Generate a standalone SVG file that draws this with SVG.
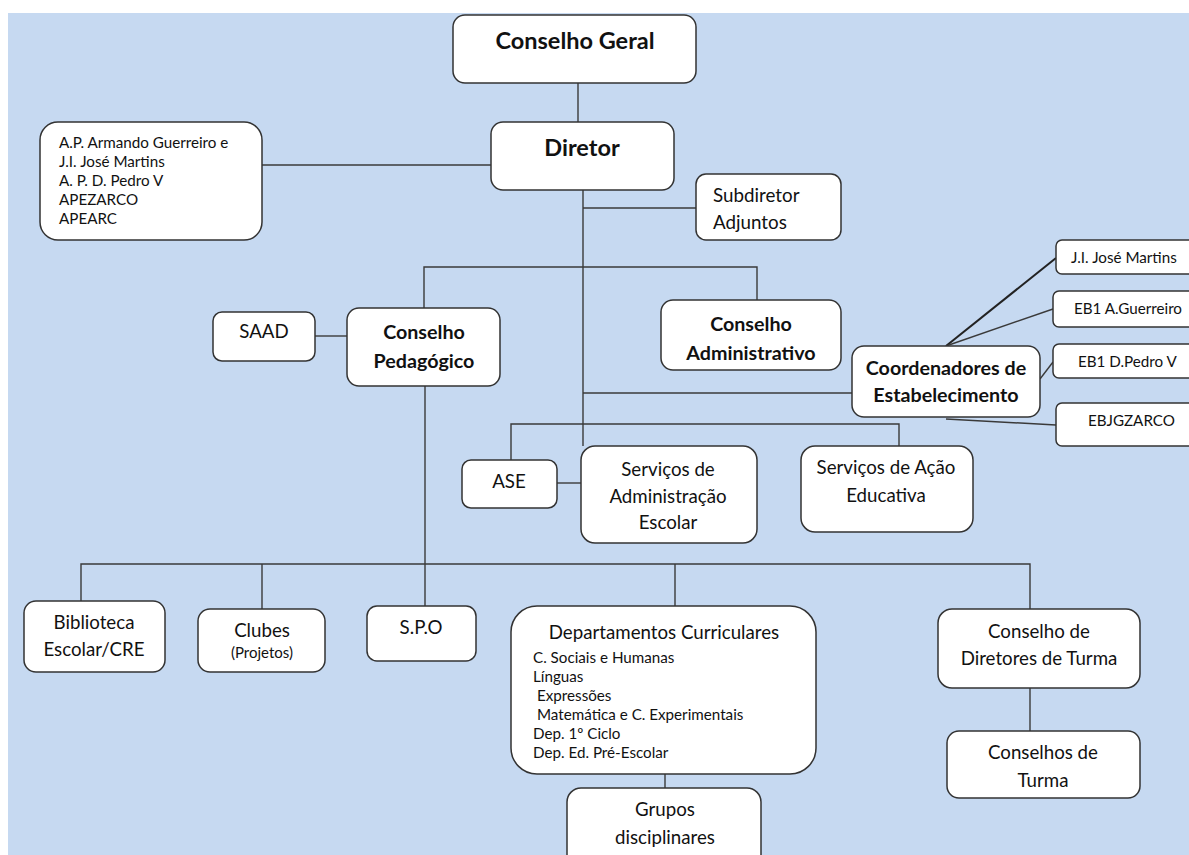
<svg xmlns="http://www.w3.org/2000/svg" width="1189" height="855" viewBox="0 0 1189 855">
<style>
.bx{fill:#fff;stroke:#333;stroke-width:1.5}
.ln{fill:none;stroke:#3a3a3a;stroke-width:1.4}
.lt{fill:none;stroke:#222;stroke-width:2}
text{font-family:Lato,"Open Sans","Liberation Sans",sans-serif;fill:#111}
.b{font-weight:bold;font-size:19.7px;text-anchor:middle}
.bt{font-weight:bold;font-size:23.5px;text-anchor:middle}
.n{font-size:18.7px;text-anchor:middle}
.nl{font-size:18.8px}
.s{font-size:15.2px}
.sm{font-size:15px;text-anchor:middle}
</style>
<rect x="8" y="13" width="1181" height="842" fill="#C6D9F1"/>
<g id="connectors">
<line class="ln" x1="578" y1="83" x2="578" y2="122"/>
<line class="ln" x1="262" y1="165" x2="491" y2="165"/>
<line class="ln" x1="583" y1="190" x2="583" y2="446"/>
<line class="ln" x1="583" y1="208" x2="696" y2="208"/>
<polyline class="ln" points="424,308 424,267 757,267 757,300"/>
<line class="ln" x1="315" y1="336" x2="347" y2="336"/>
<line class="ln" x1="583" y1="393" x2="852" y2="393"/>
<polyline class="ln" points="511,460 511,424 899,424 899,446"/>
<line class="ln" x1="557" y1="483" x2="581" y2="483"/>
<line class="lt" x1="946" y1="346" x2="1056" y2="258"/>
<line class="ln" x1="946" y1="346" x2="1053" y2="309"/>
<line class="ln" x1="1040" y1="379" x2="1053" y2="362"/>
<line class="ln" x1="946" y1="419" x2="1056" y2="425"/>
<line class="ln" x1="425" y1="386" x2="425" y2="606"/>
<polyline class="ln" points="81,601 81,564 1030,564 1030,609"/>
<line class="ln" x1="262" y1="564" x2="262" y2="609"/>
<line class="ln" x1="675" y1="564" x2="675" y2="606"/>
<line class="ln" x1="665" y1="774" x2="665" y2="788"/>
<line class="ln" x1="1030" y1="688" x2="1030" y2="731"/>
</g>
<g id="conselho-geral"><rect class="bx" x="453" y="15" width="243" height="68" rx="12"/><text class="bt" x="575" y="49">Conselho Geral</text></g>
<g id="diretor"><rect class="bx" x="491" y="122" width="183" height="68" rx="12"/><text class="bt" x="582" y="156">Diretor</text></g>
<g id="associacoes"><rect class="bx" x="40" y="122" width="222" height="118" rx="18"/>
<text class="s" x="59" y="148">A.P. Armando Guerreiro e</text>
<text class="s" x="59" y="167">J.I. José Martins</text>
<text class="s" x="59" y="186">A. P. D. Pedro V</text>
<text class="s" x="59" y="205">APEZARCO</text>
<text class="s" x="59" y="224">APEARC</text></g>
<g id="subdiretor"><rect class="bx" x="696" y="174" width="145" height="66" rx="10"/><text class="nl" x="713" y="202">Subdiretor</text><text class="nl" x="713" y="229">Adjuntos</text></g>
<g id="saad"><rect class="bx" x="213" y="312" width="102" height="49" rx="9"/><text class="n" x="264" y="338">SAAD</text></g>
<g id="conselho-pedagogico"><rect class="bx" x="347" y="308" width="153" height="78" rx="12"/><text class="b" x="424" y="339">Conselho</text><text class="b" x="424" y="368">Pedagógico</text></g>
<g id="conselho-administrativo"><rect class="bx" x="661" y="300" width="180" height="70" rx="12"/><text class="b" x="751" y="331">Conselho</text><text class="b" x="751" y="360">Administrativo</text></g>
<g id="coordenadores"><rect class="bx" x="852" y="346" width="188" height="71" rx="12"/><text class="b" x="946" y="375">Coordenadores de</text><text class="b" x="946" y="402">Estabelecimento</text></g>
<g id="ji-jose-martins"><rect class="bx" x="1056" y="240" width="145" height="34" rx="6"/><text class="s" x="1071" y="263">J.I. José Martins</text></g>
<g id="eb1-guerreiro"><rect class="bx" x="1053" y="291" width="148" height="36" rx="6"/><text class="s" x="1074" y="314">EB1 A.Guerreiro</text></g>
<g id="eb1-pedro"><rect class="bx" x="1053" y="344" width="148" height="34" rx="6"/><text class="s" x="1078" y="367">EB1 D.Pedro V</text></g>
<g id="ebjgzarco"><rect class="bx" x="1056" y="403" width="145" height="43" rx="6"/><text class="s" x="1088" y="426">EBJGZARCO</text></g>
<g id="ase"><rect class="bx" x="462" y="460" width="95" height="48" rx="9"/><text class="n" x="509" y="488">ASE</text></g>
<g id="servicos-admin"><rect class="bx" x="581" y="446" width="176" height="97" rx="14"/><text class="n" x="668" y="476">Serviços de</text><text class="n" x="668" y="503">Administração</text><text class="n" x="668" y="529">Escolar</text></g>
<g id="servicos-acao"><rect class="bx" x="801" y="446" width="172" height="86" rx="14"/><text class="n" x="886" y="474">Serviços de Ação</text><text class="n" x="886" y="502">Educativa</text></g>
<g id="biblioteca"><rect class="bx" x="24" y="601" width="141" height="71" rx="12"/><text class="n" x="94" y="629">Biblioteca</text><text class="n" x="94" y="656">Escolar/CRE</text></g>
<g id="clubes"><rect class="bx" x="198" y="609" width="127" height="63" rx="12"/><text class="n" x="262" y="637">Clubes</text><text class="sm" x="262" y="658">(Projetos)</text></g>
<g id="spo"><rect class="bx" x="367" y="606" width="109" height="55" rx="10"/><text class="n" x="421" y="634">S.P.O</text></g>
<g id="departamentos"><rect class="bx" x="511" y="606" width="305" height="168" rx="26"/><text class="n" x="664" y="639">Departamentos Curriculares</text>
<text class="s" x="533" y="663">C. Sociais e Humanas</text>
<text class="s" x="533" y="682">Línguas</text>
<text class="s" x="537" y="701">Expressões</text>
<text class="s" x="537" y="720">Matemática e C. Experimentais</text>
<text class="s" x="533" y="739">Dep. 1º Ciclo</text>
<text class="s" x="533" y="758">Dep. Ed. Pré-Escolar</text></g>
<g id="grupos"><rect class="bx" x="567" y="788" width="194" height="90" rx="14"/><text class="n" x="665" y="816">Grupos</text><text class="n" x="665" y="844">disciplinares</text></g>
<g id="conselho-dt"><rect class="bx" x="938" y="609" width="202" height="79" rx="14"/><text class="n" x="1039" y="638">Conselho de</text><text class="n" x="1039" y="665">Diretores de Turma</text></g>
<g id="conselhos-turma"><rect class="bx" x="947" y="731" width="193" height="67" rx="12"/><text class="n" x="1043" y="759">Conselhos de</text><text class="n" x="1043" y="787">Turma</text></g>
</svg>
